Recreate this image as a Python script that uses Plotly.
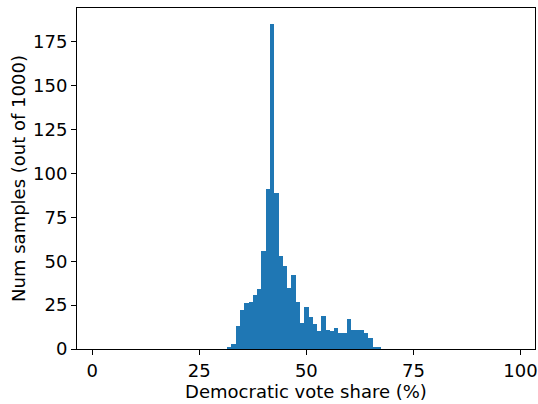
import plotly.graph_objects as go

# Histogram bin centers (Democratic vote share, %) and counts (out of 1000)
bin_centers = list(range(32, 68))
counts = [1, 3, 13, 22, 26, 27, 31, 34, 56, 91,
          185, 89, 53, 47, 35, 42, 27, 15, 24, 18,
          14, 10, 19, 11, 10, 12, 9, 9, 17, 11,
          11, 11, 9, 6, 1, 1]
x_ticks = [0, 25, 50, 75, 100]
y_ticks = [0, 25, 50, 75, 100, 125, 150, 175]

FONT_SIZE = 18

fig = go.Figure(
    go.Bar(
        x=bin_centers,
        y=counts,
        width=1,
        marker=dict(color="#1f77b4", line=dict(width=0)),
    )
)

axis_common = dict(
    showgrid=False,
    zeroline=False,
    showline=True,
    linecolor="black",
    linewidth=1,
    mirror=True,
    ticks="outside",
    ticklen=5,
    tickwidth=1,
    tickcolor="black",
    automargin=False,
    tickfont=dict(size=FONT_SIZE, color="black"),
)

fig.update_layout(
    width=538,
    height=404,
    margin=dict(l=77, r=3, t=8, b=55),
    paper_bgcolor="white",
    plot_bgcolor="white",
    font=dict(family="DejaVu Sans", size=FONT_SIZE, color="black"),
    bargap=0,
    showlegend=False,
    xaxis=dict(
        range=[-3.57, 103.4],
        tickvals=x_ticks,
        title=dict(text="Democratic vote share (%)", standoff=2, font=dict(size=FONT_SIZE)),
        **axis_common,
    ),
    yaxis=dict(
        range=[0, 194.25],
        tickvals=y_ticks,
        title=dict(text="Num samples (out of 1000)", standoff=2, font=dict(size=FONT_SIZE)),
        **axis_common,
    ),
)

fig.write_html(
    "out.html",
    config={"displayModeBar": False},
    post_script="document.body.style.margin='0';",
)
